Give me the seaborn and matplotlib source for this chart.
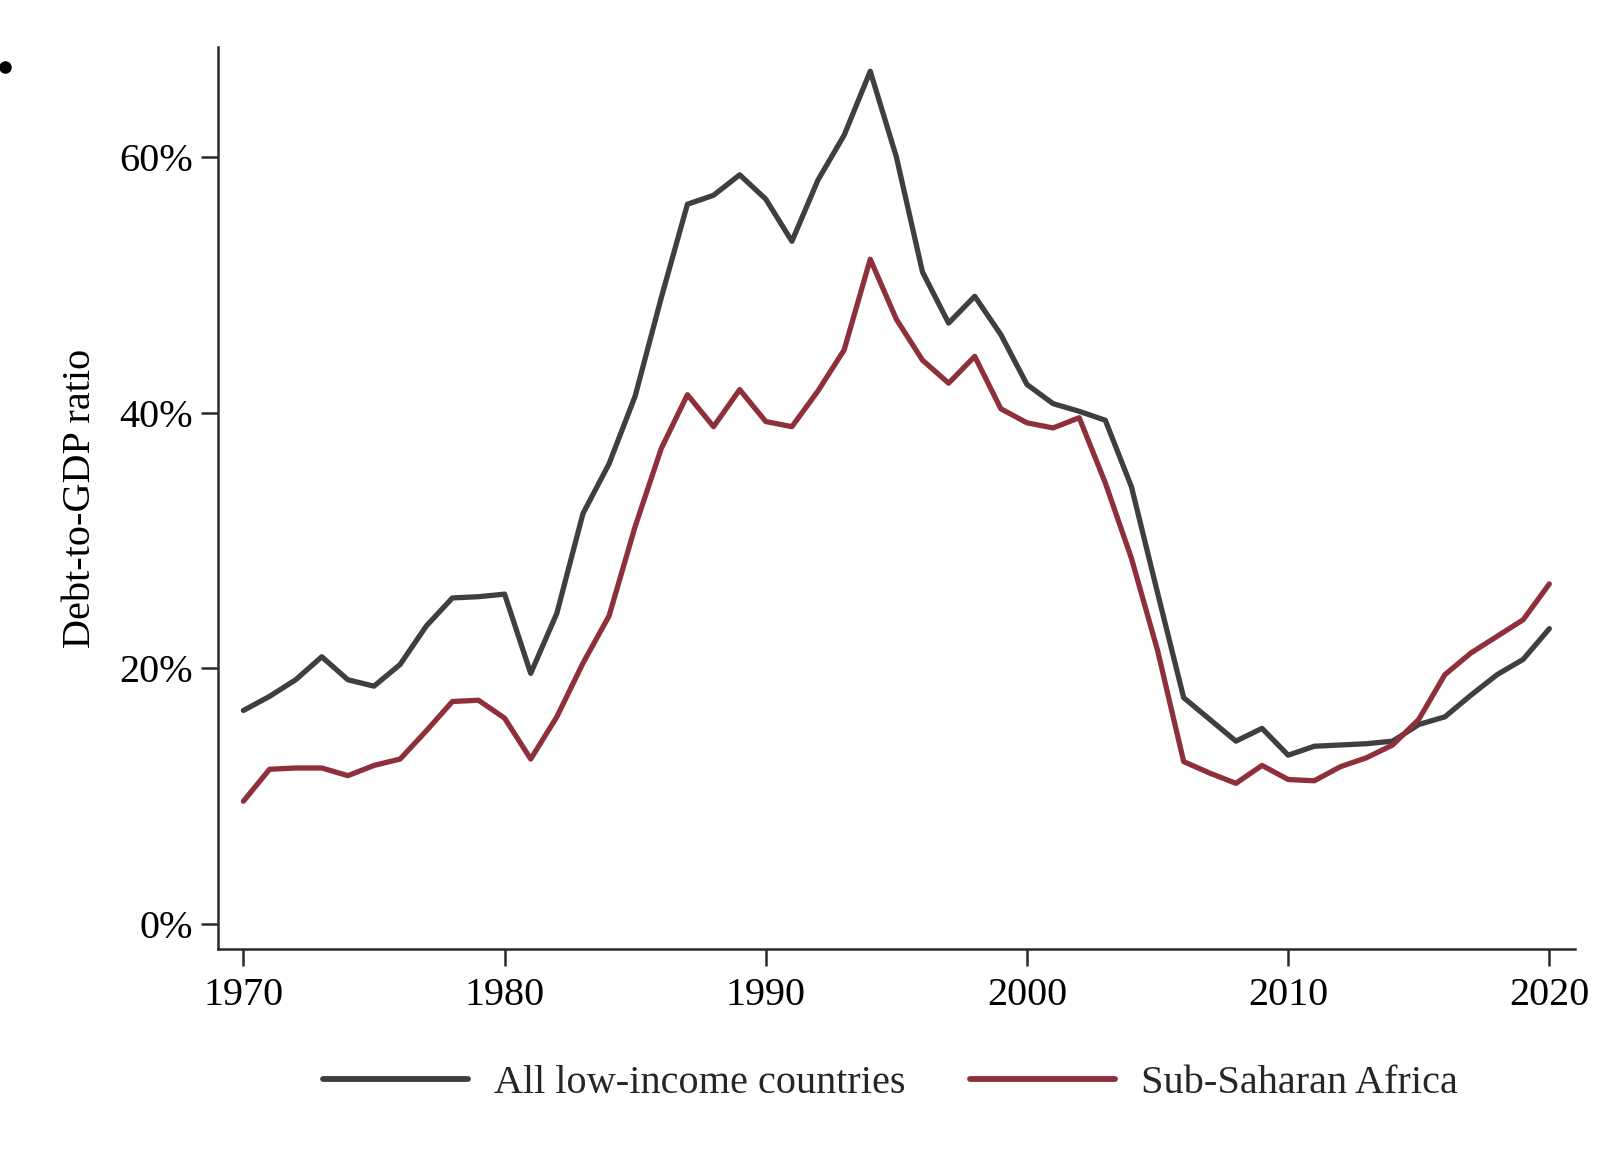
import numpy as np
import pandas as pd
import matplotlib
matplotlib.use("Agg")
import matplotlib.pyplot as plt
from matplotlib.lines import Line2D
from matplotlib.ticker import PercentFormatter
import seaborn as sns

# Debt-to-GDP ratio (% of GDP), 1970-2020
years = list(range(1970, 2021))

low_income = [
    16.7, 17.8, 19.1, 20.9, 19.1, 18.6, 20.3, 23.3, 25.5, 25.6,
    25.8, 19.6, 24.3, 32.1, 36.0, 41.3, 49.0, 56.3, 57.0, 58.6,
    56.7, 53.4, 58.2, 61.7, 66.7, 60.0, 51.0, 47.0, 49.1, 46.1,
    42.2, 40.7, 40.1, 39.4, 34.2, 25.9, 17.7, 16.0, 14.3, 15.3,
    13.2, 13.9, 14.0, 14.1, 14.3, 15.6, 16.2, 17.9, 19.5, 20.7,
    23.1,
]

ssa = [
    9.6, 12.1, 12.2, 12.2, 11.6, 12.4, 12.9, 15.1, 17.4, 17.5,
    16.1, 12.9, 16.2, 20.4, 24.1, 31.1, 37.2, 41.4, 38.9, 41.8,
    39.3, 38.9, 41.7, 44.9, 52.0, 47.3, 44.1, 42.3, 44.4, 40.3,
    39.2, 38.8, 39.6, 34.5, 28.6, 21.4, 12.7, 11.8, 11.0, 12.4,
    11.3, 11.2, 12.3, 13.0, 14.0, 16.0, 19.5, 21.2, 22.5, 23.8,
    26.6,
]

series_names = ["All low-income countries", "Sub-Saharan Africa"]
series_colors = ["#3f3f3f", "#8e303b"]
x_ticks = [1970, 1980, 1990, 2000, 2010, 2020]
y_ticks = [0, 20, 40, 60]

df = pd.DataFrame({
    "year": years * 2,
    "ratio": low_income + ssa,
    "group": [series_names[0]] * len(years) + [series_names[1]] * len(years),
})

sns.set_theme(style="ticks")
plt.rcParams["font.family"] = ["Liberation Serif", "DejaVu Serif"]
plt.rcParams["axes.edgecolor"] = "#2b2b2b"

fig = plt.figure(figsize=(16.13, 11.66), dpi=100)
ax = fig.add_axes([0.1352, 0.1861, 0.8412, 0.7736])

sns.lineplot(
    data=df, x="year", y="ratio", hue="group",
    hue_order=series_names, palette=series_colors,
    linewidth=3.8, ax=ax, legend=False,
)

ax.set_xlim(1969.03, 2020.98)
ax.set_ylim(-1.96, 68.6)
ax.set_xticks(x_ticks)
ax.set_yticks(y_ticks)
ax.yaxis.set_major_formatter(PercentFormatter(decimals=0))

for side in ["top", "right"]:
    ax.spines[side].set_visible(False)
for side in ["left", "bottom"]:
    ax.spines[side].set_linewidth(1.8)

ax.tick_params(axis="both", length=12, width=1.8, color="#2b2b2b",
               labelsize=29, labelcolor="black")
ax.tick_params(axis="y", pad=6)
ax.tick_params(axis="x", pad=8)

ax.set_xlabel("")
ax.set_ylabel("Debt-to-GDP ratio", fontsize=29, color="black")
ax.yaxis.set_label_coords(-0.088, 0.5)

handles = [Line2D([], [], color=c, linewidth=4.2) for c in series_colors]
fig.legend(handles, series_names, loc="center", bbox_to_anchor=(0.552, 0.071),
           ncol=2, frameon=False, fontsize=29, handlelength=3.6,
           handletextpad=0.65, columnspacing=1.6)

# small bullet in the top-left corner
fig.add_artist(Line2D([0.0028], [0.9425], marker="o", markersize=8,
                      color="black", linestyle="none", transform=fig.transFigure))

fig.savefig("out.png", dpi=100, facecolor="white")
